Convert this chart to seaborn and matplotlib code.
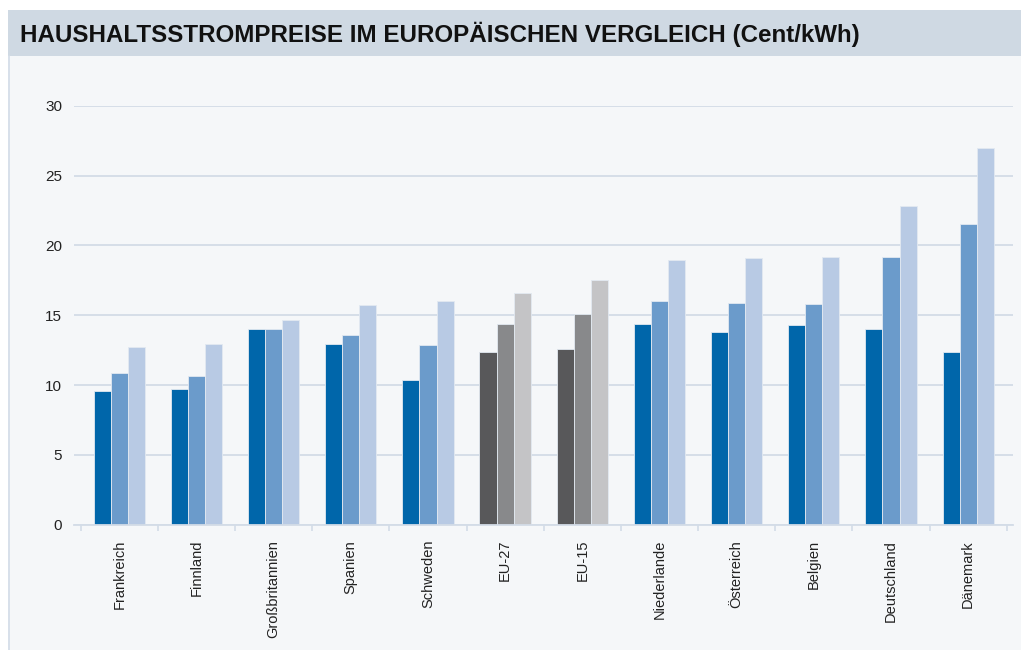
import pandas as pd
import matplotlib
matplotlib.use("Agg")
import matplotlib.pyplot as plt
import seaborn as sns
from matplotlib.patches import Rectangle
from matplotlib.lines import Line2D

# Werte (Cent/kWh)
laender = ["Frankreich", "Finnland", "Großbritannien", "Spanien", "Schweden", "EU-27",
           "EU-15", "Niederlande", "Österreich", "Belgien", "Deutschland", "Dänemark"]
serien = ["Serie 1", "Serie 2", "Serie 3"]
preis_1 = [9.57, 9.71, 13.99, 12.94, 10.38, 12.36, 12.58, 14.39, 13.77, 14.30, 13.99, 12.36]
preis_2 = [10.88, 10.62, 13.99, 13.58, 12.86, 14.37, 15.08, 15.99, 15.89, 15.82, 19.16, 21.55]
preis_3 = [12.72, 12.94, 14.65, 15.75, 16.01, 16.59, 17.52, 18.97, 19.07, 19.14, 22.79, 26.94]
eu_gruppen = ["EU-27", "EU-15"]
y_ticks = [0, 5, 10, 15, 20, 25, 30]

blau = ["#0066AA", "#6B9BCB", "#B8CAE4"]
grau = ["#58585A", "#88898B", "#C4C4C6"]
band_farbe = "#CFD9E3"
hintergrund = "#F5F7F9"
linien_farbe = "#D3DCE7"

df = pd.DataFrame({
    "Land": laender * 3,
    "Serie": [s for s in serien for _ in laender],
    "Preis": preis_1 + preis_2 + preis_3,
})

plt.rcParams["font.family"] = ["Liberation Sans", "DejaVu Sans"]

W, H = 1021, 650
fig = plt.figure(figsize=(W / 100, H / 100), dpi=100, facecolor="white")

# Titelband und Hintergrund der Grafikfläche
fig.patches.append(Rectangle((8 / W, 1 - 55.7 / H), 1, 45.7 / H, transform=fig.transFigure,
                             facecolor=band_farbe, edgecolor="none", zorder=-2))
fig.patches.append(Rectangle((8 / W, 0), 1, 1 - 55.7 / H, transform=fig.transFigure,
                             facecolor=hintergrund, edgecolor="none", zorder=-2))
fig.lines.append(Line2D([9 / W, 9 / W], [0, 1 - 55.7 / H], transform=fig.transFigure,
                        color=linien_farbe, linewidth=1.2, zorder=-1))

fig.text(20 / W, 1 - 34.5 / H, "HAUSHALTSSTROMPREISE IM EUROPÄISCHEN VERGLEICH (Cent/kWh)",
         fontsize=17.4, fontweight="bold", color="#111111", va="center", ha="left")

ax = fig.add_axes([74 / W, 1 - 524.7 / H, (1013 - 74) / W, (524.7 - 105.7) / H])
ax.set_facecolor("none")
ax.set_zorder(1)

sns.barplot(data=df, x="Land", y="Preis", hue="Serie", palette=blau, width=0.665, gap=0,
            saturation=1, edgecolor="#E2E9F1", linewidth=0.6, legend=False, ax=ax)

# EU-Durchschnitte in Grautönen
eu_idx = [laender.index(g) for g in eu_gruppen]
for farbe, cont in zip(grau, ax.containers):
    for i in eu_idx:
        cont.patches[i].set_facecolor(farbe)

ax.set_ylim(0, 30)
ax.set_xlim(-0.587, 11.581)
ax.set_yticks(y_ticks)
ax.set_yticklabels([str(t) for t in y_ticks], fontsize=11, color="#222222")
ax.tick_params(axis="y", length=0, pad=8.5)
ax.yaxis.grid(True, color=linien_farbe, linewidth=1.3)
ax.xaxis.grid(False)
ax.set_axisbelow(True)

ax.set_xticks(range(len(laender)))
ax.set_xticklabels(laender, rotation=90, fontsize=10.5, color="#222222")
ax.tick_params(axis="x", length=0, pad=11)
ax.set_xticks([i - 0.5 for i in range(len(laender) + 1)], minor=True)
ax.tick_params(axis="x", which="minor", length=4, color=linien_farbe, width=1.2)

for s in ["top", "right", "left"]:
    ax.spines[s].set_visible(False)
ax.spines["bottom"].set_color(linien_farbe)
ax.spines["bottom"].set_linewidth(1.3)

ax.set_xlabel("")
ax.set_ylabel("")

fig.savefig("out.png", dpi=100, facecolor="white")
